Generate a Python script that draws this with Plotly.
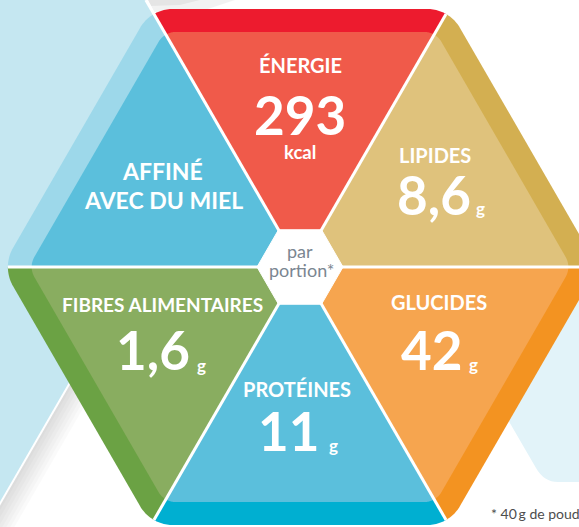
import numpy as np
import plotly.graph_objects as go

# ---- data ----
nutrients = ["ÉNERGIE", "LIPIDES", "GLUCIDES", "PROTÉINES", "FIBRES ALIMENTAIRES"]
amounts = ["293", "8,6", "42", "11", "1,6"]
units = ["kcal", "g", "g", "g", "g"]
tagline = ["AFFINÉ", "AVEC DU MIEL"]
centre_text = ["par", "portion*"]
footnote = "* 40\u2009g de poudre"

# ---- layout / style ----
W, H = 579, 527
CX, CY = 300, 267
R_OUT, R_CORNER = 298, 38
BAND = 23
R_IN = R_OUT - BAND / np.cos(np.radians(30))
R_CORNER_IN = 20
FONT = "Lato"

# panel k spans vertex angles 60k -> 60(k+1) (screen coords, y down)
panel_band = {0: "#F39321", 1: "#00AFD1", 2: "#6BA244", 3: "#9DD8EA", 4: "#ED1B2E", 5: "#D3AF51"}
panel_fill = {0: "#F6A54F", 1: "#5BBFDC", 2: "#89AD60", 3: "#5BBFDC", 4: "#F05A4A", 5: "#DFC27C"}


def arc_centre(R, r, theta):
    d = R - r / np.sin(np.radians(60))
    return CX + d * np.cos(np.radians(theta)), CY + d * np.sin(np.radians(theta))


def boundary(R, r, k):
    th0 = 60 * k
    th1 = th0 + 60
    pts = []
    ox, oy = arc_centre(R, r, th0)
    for phi in np.linspace(th0, th0 + 30, 14):
        pts.append((ox + r * np.cos(np.radians(phi)), oy + r * np.sin(np.radians(phi))))
    ox, oy = arc_centre(R, r, th1)
    for phi in np.linspace(th0 + 30, th1, 14):
        pts.append((ox + r * np.cos(np.radians(phi)), oy + r * np.sin(np.radians(phi))))
    return pts


def path(pts, close=True):
    s = "M " + " L ".join(f"{x:.2f},{y:.2f}" for x, y in pts)
    return s + (" Z" if close else "")


shapes = []
# background light-blue sheet
shapes.append(dict(type="path", path=path([(0, 0), (146, 0), (219, 125), (0, 505)]),
                   fillcolor="#C5E7F1", line=dict(width=0), layer="below"))
# shadow beside the sheet's lower edge
for s in [4, 8, 12, 16, 20, 24, 28]:
    shapes.append(dict(type="path",
                       path=path([(219, 125), (-21, 540), (-21 + s, 540), (219 + s, 125)]),
                       fillcolor="rgba(0,0,0,0.018)", line=dict(width=0), layer="below"))
shapes.append(dict(type="line", x0=219, y0=125, x1=-21, y1=540,
                   line=dict(color="white", width=2), layer="below"))
# top shadow
for a, pts in [(0.05, [(148, 0), (235, 0), (205, 10), (154, 12)]),
               (0.05, [(148, 0), (200, 0), (180, 5), (151, 6)])]:
    shapes.append(dict(type="path", path=path(pts), fillcolor=f"rgba(0,0,0,{a})",
                       line=dict(width=0), layer="below"))
# pale sheet at right
shapes.append(dict(type="path",
                   path="M 600,250 L 456,330 L 536,468 Q 544,482 558,482 L 600,482 Z",
                   fillcolor="#E2F3F9", line=dict(width=0), layer="below"))

# hexagon panels: outer band then inner fill
for k in range(6):
    shapes.append(dict(type="path", path=path([(CX, CY)] + boundary(R_OUT, R_CORNER, k)),
                       fillcolor=panel_band[k], line=dict(width=0)))
for k in range(6):
    shapes.append(dict(type="path", path=path([(CX, CY)] + boundary(R_IN, R_CORNER_IN, k)),
                       fillcolor=panel_fill[k], line=dict(width=0)))

# dividers
for k in range(6):
    th = np.radians(60 * k)
    if k == 4:
        t = CY / np.sin(np.radians(60))
        ex, ey = CX + t * np.cos(th), CY + t * np.sin(th)
    else:
        ox, oy = arc_centre(R_OUT, R_CORNER, 60 * k)
        ex, ey = ox + R_CORNER * np.cos(th), oy + R_CORNER * np.sin(th)
    shapes.append(dict(type="line", x0=CX, y0=CY, x1=ex, y1=ey,
                       line=dict(color="white", width=3)))

# centre hexagon
hex_pts = [(CX + 43 * np.cos(np.radians(a)), CY + 43 * np.sin(np.radians(a))) for a in range(0, 360, 60)]
shapes.append(dict(type="path", path=path(hex_pts), fillcolor="white", line=dict(color="white", width=1)))

ann = []


def txt(x, y, s, size, color="white", bold=True, xanchor="center"):
    ann.append(dict(x=x, y=y, text=s, showarrow=False, xanchor=xanchor, yanchor="middle",
                    font=dict(family=FONT, size=size, color=color, weight="bold" if bold else "normal")))


# label positions (layout only)
label_pos = [(300, 65), (435, 155), (439, 302), (297, 389), (162, 304)]
label_size = [20, 20, 20, 20, 19]
num_pos = [(300, 114), (434, 194), (431, 349), (288, 430), (153, 349)]
unit_pos = [(300, 152), (474, 208), (467, 364), (327, 445), (195, 365)]

for i in range(5):
    txt(*label_pos[i], nutrients[i], label_size[i])
    txt(*num_pos[i], amounts[i], 53)
    if units[i] == "kcal":
        txt(*unit_pos[i], units[i], 18.5)
    else:
        txt(*unit_pos[i], units[i], 17, xanchor="left")

txt(162, 171, tagline[0], 23)
txt(163, 200, tagline[1], 23)
txt(300, 251, centre_text[0], 18, color="#7B8691", bold=False)
txt(301, 270, centre_text[1], 18, color="#7B8691", bold=False)
txt(489, 513, footnote, 14, color="#4D4D4D", bold=False, xanchor="left")

fig = go.Figure()
fig.add_trace(go.Scatter(x=[0, W], y=[0, H], mode="markers", marker=dict(opacity=0),
                         hoverinfo="skip", showlegend=False))
fig.update_layout(
    width=W, height=H, margin=dict(l=0, r=0, t=0, b=0),
    paper_bgcolor="white", plot_bgcolor="white",
    xaxis=dict(range=[0, W], visible=False, fixedrange=True),
    yaxis=dict(range=[H, 0], visible=False, fixedrange=True),
    shapes=shapes, annotations=ann, showlegend=False,
)
fig.write_html("out.html", config={"displayModeBar": False},
               post_script="document.body.style.margin='0px';document.body.style.overflow='hidden';")
